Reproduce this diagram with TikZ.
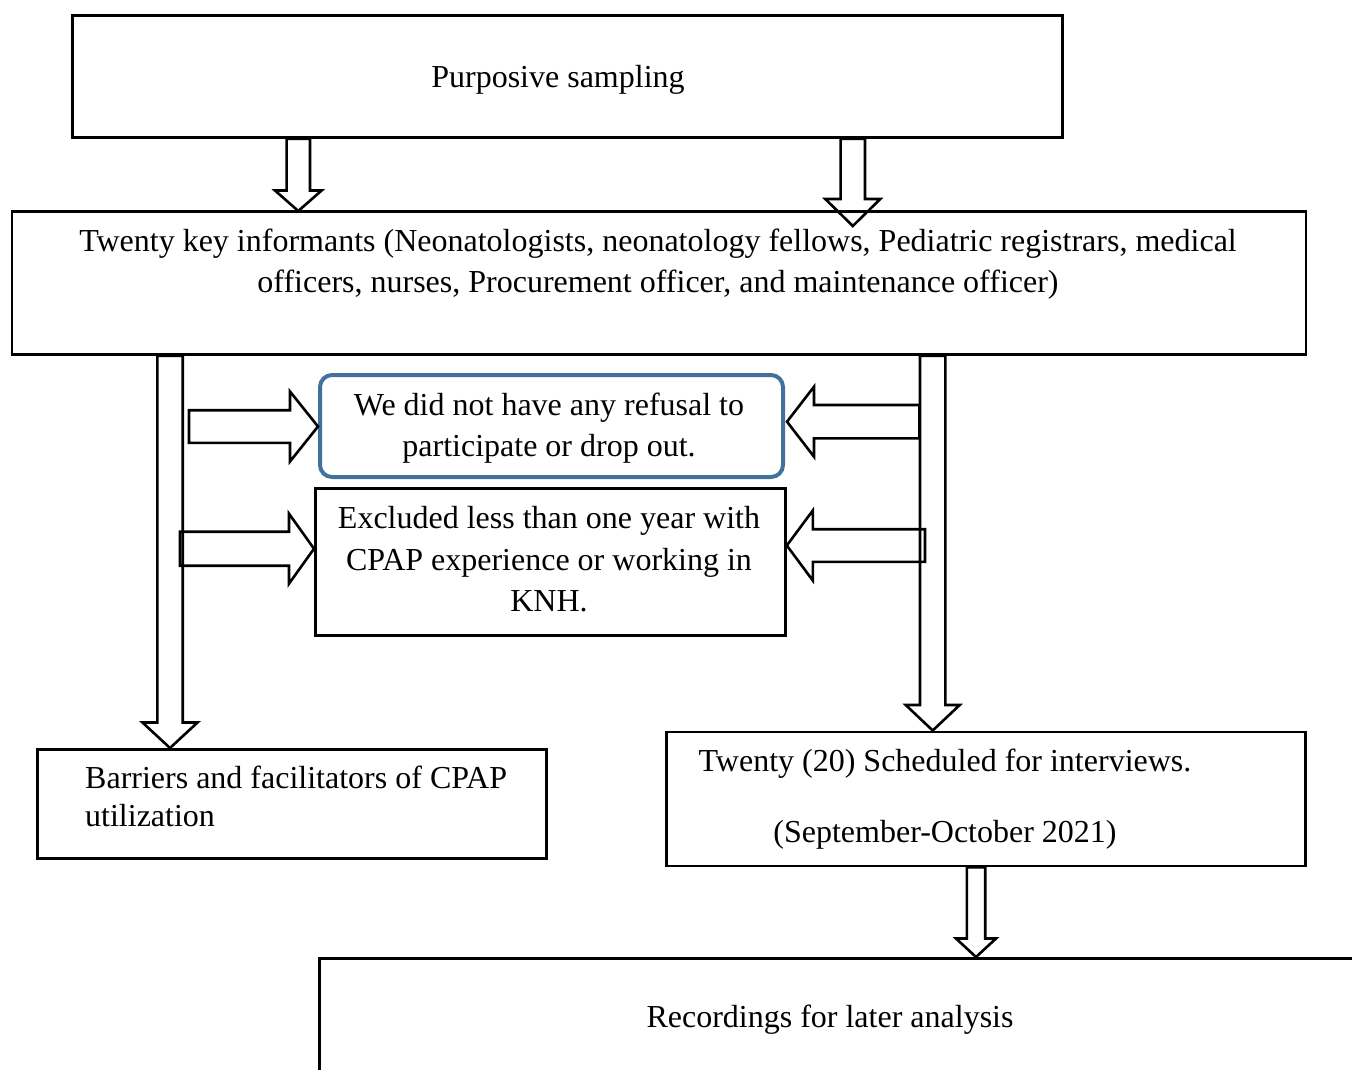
\documentclass[tikz,border=0pt]{standalone}
\usepackage{fontspec}
\setmainfont{Liberation Serif}
\usetikzlibrary{calc}
\definecolor{frameblue}{HTML}{41719C}
\tikzset{
  box/.style={draw=black, line width=2.8pt, rectangle, inner sep=0pt, anchor=north west},
  roundbox/.style={draw=frameblue, line width=4pt, rounded corners=12pt, rectangle, inner sep=0pt, anchor=north west},
  txt/.style={font=\fontsize{32}{41.5}\selectfont, align=center, inner sep=0pt},
  blockarrow/.style={draw=black, line width=2.6pt, line join=miter},
}
% hollow block arrow pointing down: #1 tail point, #2 tip, #3 shaft half width, #4 head half width, #5 head length
\newcommand\downblock[5]{%
  \draw[blockarrow] let \p1=#1, \p2=#2 in
    (\x2-#3pt,\y1) -- (\x2-#3pt,\y2+#5pt) -- (\x2-#4pt,\y2+#5pt) -- (\x2,\y2)
    -- (\x2+#4pt,\y2+#5pt) -- (\x2+#3pt,\y2+#5pt) -- (\x2+#3pt,\y1) -- cycle;}
% hollow block arrow pointing right
\newcommand\rightblock[5]{%
  \draw[blockarrow] let \p1=#1, \p2=#2 in
    (\x1,\y2+#3pt) -- (\x2-#5pt,\y2+#3pt) -- (\x2-#5pt,\y2+#4pt) -- (\x2,\y2)
    -- (\x2-#5pt,\y2-#4pt) -- (\x2-#5pt,\y2-#3pt) -- (\x1,\y2-#3pt) -- cycle;}
% hollow block arrow pointing left
\newcommand\leftblock[5]{%
  \draw[blockarrow] let \p1=#1, \p2=#2 in
    (\x1,\y2+#3pt) -- (\x2+#5pt,\y2+#3pt) -- (\x2+#5pt,\y2+#4pt) -- (\x2,\y2)
    -- (\x2+#5pt,\y2-#4pt) -- (\x2+#5pt,\y2-#3pt) -- (\x1,\y2-#3pt) -- cycle;}
\begin{document}
\begin{tikzpicture}[x=1pt, y=-1pt]
  \useasboundingbox (0,0) rectangle (1352,1070);
  \clip (0,0) rectangle (1352,1070);

  % boxes
  \node[box, minimum width=990pt, minimum height=122pt] (purp) at (71,14) {};
  \node[box, minimum width=1294pt, minimum height=143pt] (keyinf) at (10.5,210) {};
  \node[roundbox, minimum width=463pt, minimum height=102pt] (norefuse) at (318,373) {};
  \node[box, minimum width=470pt, minimum height=147pt] (excl) at (314,487) {};
  \node[box, minimum width=509pt, minimum height=109pt] (barr) at (36,748) {};
  \node[box, minimum width=639pt, minimum height=134pt] (sched) at (665,730.5) {};
  \node[box, minimum width=1100pt, minimum height=200pt] (rec) at (318,957) {};

  % texts
  \node[txt] (tpurp) at (558,80) {Purposive sampling};
  \node[txt] (tkey) at (658,264) {Twenty key informants (Neonatologists, neonatology fellows, Pediatric registrars, medical\\officers, nurses, Procurement officer, and maintenance officer)};
  \node[txt] (tref) at (549,428) {We did not have any refusal to\\participate or drop out.};
  \node[txt] (texc) at (549,559.5) {Excluded less than one year with\\CPAP experience or working in\\KNH.};
  \node[txt, font=\fontsize{32}{38}\selectfont, align=left, anchor=west] (tbar) at (85,796) {Barriers and facilitators of CPAP\\utilization};
  \node[txt] (tsch) at (945,764) {Twenty (20) Scheduled for interviews.};
  \node[txt] (tsep) at (945,835) {(September-October 2021)};
  \node[txt] (trec) at (830,1020) {Recordings for later analysis};

  % anchor columns / rows for the block arrows
  \coordinate (ca1) at (298.3,0);
  \coordinate (ca2) at (852.8,0);
  \coordinate (ca3) at (170,0);
  \coordinate (ca4) at (932.7,0);
  \coordinate (ca5) at (976,0);
  \coordinate (l1tail) at (189,426.5);
  \coordinate (l2tail) at (180,548.7);
  \coordinate (r1tail) at (919.3,421.7);
  \coordinate (r2tail) at (925,545.5);

  % vertical block arrows
  \downblock{(purp.south -| ca1)}{($(keyinf.north -| ca1)+(0,1)$)}{11.7}{23.3}{20.5}
  \downblock{(purp.south -| ca2)}{($(keyinf.north -| ca2)+(0,16)$)}{12.2}{27.5}{27}
  \downblock{(keyinf.south -| ca3)}{(barr.north -| ca3)}{12.7}{27.5}{25.5}
  \downblock{(keyinf.south -| ca4)}{(sched.north -| ca4)}{12.7}{27}{25.5}
  \downblock{(sched.south -| ca5)}{(rec.north -| ca5)}{9.2}{20}{18.5}

  % horizontal block arrows
  \rightblock{(l1tail)}{(norefuse.west |- l1tail)}{16.3}{35}{28}
  \rightblock{(l2tail)}{(excl.west |- l2tail)}{17}{35}{25}
  \leftblock{(r1tail)}{($(norefuse.east |- r1tail)+(2,0)$)}{16.7}{35}{27}
  \leftblock{(r2tail)}{(excl.east |- r2tail)}{16.3}{35}{26}
\end{tikzpicture}
\end{document}
